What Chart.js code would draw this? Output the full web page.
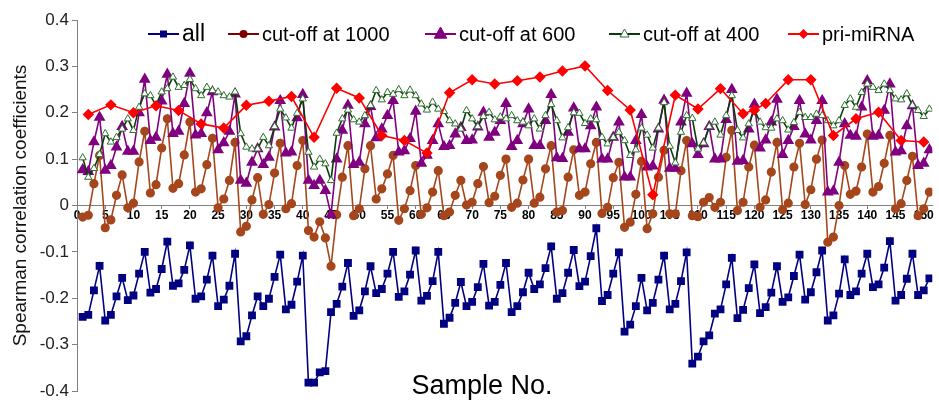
<!DOCTYPE html>
<html>
<head>
<meta charset="utf-8">
<script src="https://cdn.jsdelivr.net/npm/chart.js"></script>
<style>
  body { margin: 0; background: #fff; }
  #wrap { width: 939px; height: 406px; }
</style>
</head>
<body>
<div id="wrap"><canvas id="chart" width="939" height="406"></canvas></div>
<script>
// DATA (sample numbers 1..151)
const allSamples = [
  -0.240, -0.236, -0.183, -0.130, -0.248, -0.236, -0.196, -0.156, -0.204, -0.194,
  -0.147, -0.100, -0.188, -0.180, -0.137, -0.078, -0.173, -0.168, -0.139, -0.086,
  -0.201, -0.196, -0.160, -0.108, -0.217, -0.203, -0.173, -0.104, -0.293, -0.282,
  -0.237, -0.196, -0.217, -0.201, -0.154, -0.106, -0.224, -0.214, -0.164, -0.108,
  -0.382, -0.382, -0.360, -0.357, -0.230, -0.212, -0.175, -0.124, -0.238, -0.226,
  -0.185, -0.131, -0.189, -0.180, -0.147, -0.100, -0.197, -0.185, -0.149, -0.097,
  -0.205, -0.195, -0.163, -0.100, -0.255, -0.242, -0.210, -0.165, -0.217, -0.208,
  -0.176, -0.126, -0.216, -0.208, -0.171, -0.124, -0.230, -0.217, -0.187, -0.145,
  -0.180, -0.170, -0.135, -0.088, -0.201, -0.189, -0.145, -0.096, -0.174, -0.164,
  -0.109, -0.049, -0.206, -0.193, -0.147, -0.101, -0.272, -0.257, -0.217, -0.156,
  -0.226, -0.210, -0.160, -0.108, -0.224, -0.212, -0.163, -0.101, -0.341, -0.326,
  -0.293, -0.280, -0.233, -0.224, -0.170, -0.113, -0.243, -0.225, -0.178, -0.127,
  -0.232, -0.219, -0.188, -0.131, -0.208, -0.198, -0.152, -0.106, -0.203, -0.187,
  -0.144, -0.097, -0.248, -0.237, -0.190, -0.116, -0.193, -0.185, -0.147, -0.104,
  -0.176, -0.170, -0.134, -0.077, -0.205, -0.193, -0.158, -0.104, -0.193, -0.183,
  -0.157
];
const cutoff1000 = [
  -0.025, -0.021, 0.047, 0.108, -0.048, -0.031, 0.022, 0.066, -0.005, 0.005,
  0.094, 0.160, 0.027, 0.045, 0.124, 0.187, 0.037, 0.047, 0.109, 0.180,
  0.029, 0.036, 0.088, 0.145, -0.005, 0.014, 0.054, 0.136, -0.057, -0.045,
  0.012, 0.060, -0.019, 0.002, 0.070, 0.134, -0.007, 0.004, 0.086, 0.140,
  -0.054, -0.068, -0.035, -0.070, -0.131, -0.020, 0.061, 0.129, -0.022, -0.007,
  0.079, 0.129, 0.014, 0.036, 0.068, 0.108, -0.032, -0.007, 0.032, 0.086,
  -0.019, -0.005, 0.029, 0.075, -0.022, -0.014, 0.022, 0.054, 0.001, 0.007,
  0.047, 0.084, 0.006, 0.020, 0.065, 0.100, -0.004, 0.005, 0.055, 0.100,
  0.005, 0.018, 0.079, 0.129, -0.014, -0.011, 0.061, 0.120, 0.022, 0.029,
  0.090, 0.136, -0.017, -0.004, 0.060, 0.093, -0.047, -0.036, 0.024, 0.095,
  -0.050, -0.018, 0.061, 0.119, -0.018, -0.018, 0.075, 0.140, -0.022, -0.024,
  0.007, 0.017, -0.004, 0.007, 0.104, 0.162, -0.011, 0.007, 0.083, 0.130,
  -0.004, 0.012, 0.072, 0.136, -0.009, 0.005, 0.083, 0.134, 0.002, 0.034,
  0.100, 0.141, -0.079, -0.068, 0.000, 0.086, 0.024, 0.031, 0.083, 0.154,
  0.029, 0.041, 0.091, 0.151, -0.007, 0.004, 0.054, 0.106, -0.022, -0.007,
  0.029
];
const cutoff600 = [
  0.077, 0.073, 0.137, 0.190, 0.076, 0.086, 0.126, 0.170, 0.117, 0.117,
  0.200, 0.272, 0.140, 0.147, 0.225, 0.283, 0.155, 0.160, 0.220, 0.285,
  0.152, 0.155, 0.200, 0.245, 0.120, 0.135, 0.160, 0.240, 0.054, 0.048,
  0.093, 0.122, 0.088, 0.104, 0.169, 0.226, 0.113, 0.115, 0.189, 0.239,
  0.054, 0.043, 0.054, 0.032, -0.020, 0.100, 0.162, 0.216, 0.088, 0.093,
  0.176, 0.213, 0.146, 0.165, 0.194, 0.226, 0.115, 0.118, 0.144, 0.203,
  0.091, 0.108, 0.140, 0.176, 0.127, 0.129, 0.154, 0.168, 0.140, 0.141,
  0.169, 0.201, 0.147, 0.158, 0.183, 0.220, 0.127, 0.140, 0.176, 0.208,
  0.129, 0.129, 0.183, 0.239, 0.103, 0.101, 0.158, 0.210, 0.122, 0.122,
  0.172, 0.212, 0.100, 0.100, 0.147, 0.180, 0.061, 0.061, 0.140, 0.196,
  0.083, 0.085, 0.165, 0.227, 0.080, 0.080, 0.180, 0.242, 0.133, 0.110,
  0.133, 0.170, 0.100, 0.100, 0.185, 0.250, 0.095, 0.097, 0.165, 0.218,
  0.124, 0.141, 0.180, 0.229, 0.110, 0.140, 0.170, 0.226, 0.154, 0.141,
  0.183, 0.226, 0.029, 0.031, 0.093, 0.176, 0.151, 0.149, 0.212, 0.269,
  0.149, 0.151, 0.205, 0.262, 0.115, 0.118, 0.172, 0.215, 0.086, 0.091,
  0.120
];
const cutoff400 = [
  0.103, 0.061, 0.080, 0.110, 0.155, 0.137, 0.147, 0.165, 0.187, 0.162,
  0.212, 0.241, 0.237, 0.216, 0.245, 0.252, 0.277, 0.255, 0.259, 0.272,
  0.252, 0.237, 0.255, 0.248, 0.245, 0.237, 0.234, 0.245, 0.155, 0.126,
  0.122, 0.122, 0.147, 0.129, 0.170, 0.208, 0.189, 0.167, 0.199, 0.230,
  0.115, 0.083, 0.100, 0.090, 0.054, 0.156, 0.187, 0.206, 0.185, 0.180,
  0.194, 0.216, 0.248, 0.228, 0.244, 0.240, 0.250, 0.237, 0.249, 0.237,
  0.219, 0.206, 0.223, 0.208, 0.203, 0.183, 0.176, 0.165, 0.205, 0.187,
  0.170, 0.192, 0.201, 0.185, 0.191, 0.187, 0.194, 0.183, 0.180, 0.172,
  0.187, 0.165, 0.194, 0.218, 0.183, 0.146, 0.168, 0.200, 0.199, 0.177,
  0.187, 0.185, 0.147, 0.133, 0.147, 0.158, 0.140, 0.108, 0.120, 0.167,
  0.152, 0.124, 0.167, 0.222, 0.128, 0.092, 0.158, 0.194, 0.188, 0.122,
  0.135, 0.170, 0.180, 0.152, 0.194, 0.237, 0.162, 0.146, 0.176, 0.206,
  0.180, 0.168, 0.167, 0.187, 0.183, 0.163, 0.179, 0.201, 0.190, 0.190,
  0.197, 0.194, 0.183, 0.172, 0.183, 0.216, 0.230, 0.212, 0.244, 0.262,
  0.255, 0.248, 0.262, 0.248, 0.230, 0.228, 0.241, 0.216, 0.205, 0.192,
  0.208
];
// pri-miRNA only has a value at some sample numbers
const priSamples = [2, 6, 10, 14, 18, 22, 26, 30, 34, 38, 42, 46, 50, 54, 58, 62, 66, 70, 74, 78,
  82, 86, 90, 94, 98, 102, 106, 110, 114, 118, 120, 122, 126, 130, 134, 138, 142, 146, 150];
const priMiRNA = [0.196, 0.217, 0.200, 0.215, 0.205, 0.176, 0.167, 0.216, 0.225, 0.235,
  0.147, 0.253, 0.232, 0.151, 0.140, 0.113, 0.243, 0.271, 0.262, 0.269,
  0.277, 0.290, 0.301, 0.248, 0.206, 0.023, 0.238, 0.208, 0.252, 0.198,
  0.206, 0.220, 0.271, 0.271, 0.151, 0.187, 0.201, 0.140, 0.137];

const seriesNames = ["all", "cut-off at 1000", "cut-off at 600", "cut-off at 400", "pri-miRNA"];
const xTickStep = 5;
const yTickStep = 0.1;

const toPoints = (arr) => arr.map((v, i) => ({ x: i + 1, y: v }));

const FONT = "'Liberation Sans', Arial, sans-serif";

// legend + "Sample No." drawn by hand, the picture has them inside the plot
const overlayPlugin = {
  id: "overlay",
  afterDraw(chart) {
    const ctx = chart.ctx;
    const area = chart.chartArea;
    ctx.save();
    // legend items: line start x
    const starts = [148, 228, 425, 609, 788];
    const ly = 34;
    chart.data.datasets.forEach((ds, i) => {
      const x0 = starts[i];
      ctx.strokeStyle = ds.legendLine || ds.borderColor;
      ctx.lineWidth = 2;
      ctx.beginPath();
      ctx.moveTo(x0, ly);
      ctx.lineTo(x0 + 31, ly);
      ctx.stroke();
      const cx = x0 + 15.5;
      ctx.fillStyle = ds.legendMarker || ds.pointBackgroundColor;
      ctx.strokeStyle = ds.pointBorderColor;
      ctx.lineWidth = 1;
      ctx.beginPath();
      if (ds.pointStyle === "rect") {
        ctx.rect(cx - 3.5, ly - 3.5, 7, 7);
        ctx.fill();
      } else if (ds.pointStyle === "circle") {
        ctx.arc(cx, ly, 4, 0, Math.PI * 2);
        ctx.fill();
      } else if (ds.pointStyle === "triangle") {
        const r = ds.label === "cut-off at 600" ? 7 : 5;
        ctx.moveTo(cx, ly - r);
        ctx.lineTo(cx + r * 0.9, ly + r * 0.6);
        ctx.lineTo(cx - r * 0.9, ly + r * 0.6);
        ctx.closePath();
        ctx.fill();
        ctx.stroke();
      } else {
        ctx.moveTo(cx, ly - 5);
        ctx.lineTo(cx + 5, ly);
        ctx.lineTo(cx, ly + 5);
        ctx.lineTo(cx - 5, ly);
        ctx.closePath();
        ctx.fill();
      }
      ctx.fillStyle = "#000";
      ctx.font = (i === 0 ? "23px " : "20px ") + FONT;
      ctx.textBaseline = "middle";
      ctx.textAlign = "left";
      ctx.fillText(ds.label, x0 + 34, ly + 1);
    });
    // axis title
    ctx.font = "27px " + FONT;
    ctx.textAlign = "center";
    ctx.textBaseline = "alphabetic";
    ctx.fillStyle = "#000";
    ctx.fillText("Sample No.", area.left + 405, 394);
    ctx.restore();
  }
};

const data = {
  datasets: [
    {
      label: seriesNames[0],
      data: toPoints(allSamples),
      borderColor: "#000080",
      backgroundColor: "#000080",
      pointBackgroundColor: "#000080",
      pointBorderColor: "#000080",
      pointStyle: "rect",
      pointRadius: 4.4,
      borderWidth: 1.6,
      order: 5
    },
    {
      label: seriesNames[1],
      data: toPoints(cutoff1000),
      borderColor: "#A5461C",
      backgroundColor: "#A5461C",
      pointBackgroundColor: "#A5461C",
      pointBorderColor: "#A5461C",
      legendLine: "#800000",
      legendMarker: "#800000",
      pointStyle: "circle",
      pointRadius: 3.8,
      borderWidth: 1.6,
      order: 4
    },
    {
      label: seriesNames[2],
      data: toPoints(cutoff600),
      borderColor: "#800080",
      backgroundColor: "#800080",
      pointBackgroundColor: "#800080",
      pointBorderColor: "#800080",
      pointStyle: "triangle",
      pointRadius: 5.2,
      borderWidth: 1.6,
      order: 3
    },
    {
      label: seriesNames[3],
      data: toPoints(cutoff400),
      borderColor: "#0B3A0B",
      backgroundColor: "#ffffff",
      pointBackgroundColor: "#ffffff",
      pointBorderColor: "#2F6F2F",
      legendMarker: "#ffffff",
      pointStyle: "triangle",
      pointRadius: 4.2,
      pointBorderWidth: 1,
      borderWidth: 1.6,
      order: 2
    },
    {
      label: seriesNames[4],
      data: priSamples.map((s, i) => ({ x: s, y: priMiRNA[i] })),
      borderColor: "#FF0000",
      backgroundColor: "#FF0000",
      pointBackgroundColor: "#FF0000",
      pointBorderColor: "#FF0000",
      pointStyle: "rectRot",
      pointRadius: 4.6,
      borderWidth: 1.6,
      order: 1
    }
  ]
};

const config = {
  type: "line",
  data: data,
  options: {
    responsive: false,
    devicePixelRatio: 1,
    animation: false,
    layout: {
      padding: { top: 20, bottom: 15, left: 0, right: 0 }
    },
    elements: {
      line: { tension: 0 }
    },
    scales: {
      x: {
        type: "linear",
        min: 0,
        max: 151.5,
        position: { y: 0 },
        grid: {
          drawOnChartArea: false,
          drawTicks: true,
          tickLength: 3,
          color: "#808080"
        },
        border: { color: "#808080", width: 1 },
        ticks: {
          stepSize: xTickStep,
          includeBounds: false,
          autoSkip: false,
          maxRotation: 0,
          padding: 0,
          color: "#000",
          font: { family: FONT, size: 12, weight: "bold" },
          callback: (v) => (v % xTickStep === 0 ? v : "")
        }
      },
      y: {
        min: -0.4,
        max: 0.4,
        grid: {
          drawOnChartArea: false,
          drawTicks: true,
          tickLength: 5,
          color: "#808080"
        },
        border: { color: "#808080", width: 1 },
        ticks: {
          stepSize: yTickStep,
          padding: 3,
          color: "#222",
          font: { family: FONT, size: 17 }
        },
        title: {
          display: true,
          text: "Spearman correlation coefficients",
          color: "#111",
          font: { family: FONT, size: 19 },
          padding: { top: 9, bottom: 0 }
        },
        afterFit: (scale) => {
          scale.width = 77;
        }
      }
    },
    plugins: {
      legend: { display: false },
      tooltip: { enabled: false }
    }
  },
  plugins: [overlayPlugin]
};

const chart = new Chart(document.getElementById("chart"), config);
</script>
</body>
</html>
